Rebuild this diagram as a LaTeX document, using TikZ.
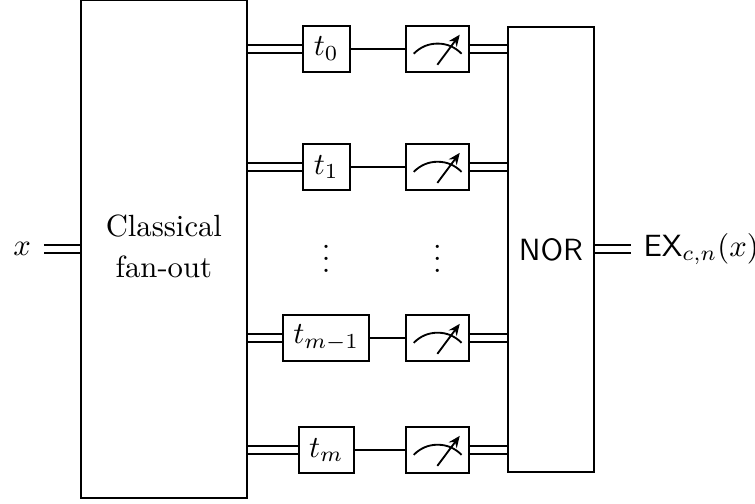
\documentclass[tikz,border=0pt]{standalone}
\usepackage{amsmath}
\usepackage{amssymb}
\usetikzlibrary{arrows.meta}
\usetikzlibrary{backgrounds}

\tikzset{
  block/.style={draw, line width=0.6pt, minimum height=15pt, minimum width=15.3pt, inner xsep=3.33pt, inner ysep=0pt},
  readout/.style={draw, line width=0.6pt, minimum height=15pt, minimum width=20.5pt, inner sep=0pt,
    path picture={
      \draw[line width=0.6pt] ([shift={(-7.7pt,-1.6pt)}]path picture bounding box.center)
        .. controls +(2.2pt,2.2pt) and +(-3pt,0pt) .. ([shift={(0.1pt,1.7pt)}]path picture bounding box.center)
        .. controls +(3pt,0pt) and +(-2.2pt,2.2pt) .. ([shift={(7.9pt,-1.6pt)}]path picture bounding box.center);
      \draw[line width=0.6pt, -{Stealth[length=3.8pt,width=3.2pt]}] ([shift={(0pt,-5.2pt)}]path picture bounding box.center)
        -- ([shift={(7.3pt,4.6pt)}]path picture bounding box.center);
    }},
  cwire/.style={double, line width=0.6pt, double distance=1.9pt},
  qwire/.style={line width=0.6pt},
  endlabel/.style={inner xsep=4pt, inner ysep=0pt}
}

\begin{document}
\begin{tikzpicture}[node distance=36.2pt]
  % Canvas
  \path[use as bounding box] (-53.4pt,-83.1pt) rectangle (192.6pt,81.1pt);

  % Outer boxes
  \node[draw, line width=0.6pt, minimum width=54.1pt, minimum height=162.2pt, inner sep=0pt] (fan) at (0,0) {};
  \node[align=center, inner sep=0pt, yshift=0.8pt] (fantext) at (fan) {Classical\\[1.3pt]fan-out};
  \node[draw, line width=0.6pt, minimum width=28pt, minimum height=145pt, inner sep=0pt] (nor) at (126.1pt,-0.2pt) {\textsf{NOR}};

  % Test column
  \node[block, right of=fan, xshift=16.7pt, yshift=65.2pt] (t0) {$t_{0}$};
  \node[block, below of=t0, yshift=-2.3pt] (t1) {$t_{1}$};
  \node[block, right of=fan, xshift=16.7pt, yshift=-29pt] (tm1) {$t_{m-1}$};
  \node[block, below of=tm1, yshift=-0.3pt] (tm) {$t_{m}$};

  % Measurement column
  \node[readout, right of=t0] (m0) {};
  \node[readout, right of=t1] (m1) {};
  \node[readout, right of=tm1] (mm1) {};
  \node[readout, right of=tm] (mm) {};

  % Dots
  \node[below of=t1, yshift=9.3pt] (dots1) {$\vdots$};
  \node[right of=dots1] (dots2) {$\vdots$};

  % Input and output
  \node[endlabel, left of=fan, xshift=-10pt] (x) {$x$};
  \node[endlabel, anchor=west] (ex) at (152.1pt,0pt) {$\mathsf{EX}_{c,n}(x)$};

  % Wires
  \begin{pgfonlayer}{background}
    \draw[cwire] (x) -- (x -| fan.west);
    \draw[cwire] (t0) -- (t0 -| fan.east);
    \draw[cwire] (t1) -- (t1 -| fan.east);
    \draw[cwire] (tm1) -- (tm1 -| fan.east);
    \draw[cwire] (tm) -- (tm -| fan.east);
    \draw[cwire] (m0) -- (m0 -| nor.west);
    \draw[cwire] (m1) -- (m1 -| nor.west);
    \draw[cwire] (mm1) -- (mm1 -| nor.west);
    \draw[cwire] (mm) -- (mm -| nor.west);
    \draw[cwire] (nor.east |- ex) -- (ex);
  \end{pgfonlayer}

  \draw[qwire] (t0) -- (m0);
  \draw[qwire] (t1) -- (m1);
  \draw[qwire] (tm1) -- (mm1);
  \draw[qwire] (tm) -- (mm);
\end{tikzpicture}
\end{document}
